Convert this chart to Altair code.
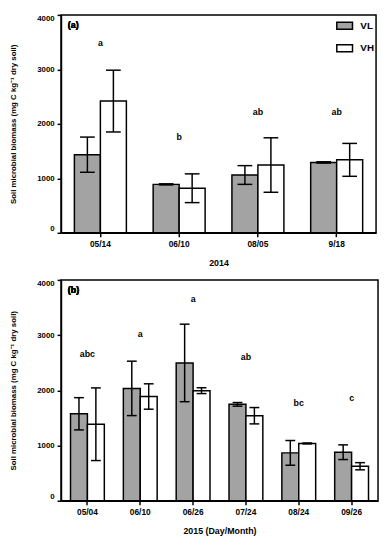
import altair as alt
import pandas as pd

# ---- Panel (a): 2014 ----
dates_a = ["05/14", "06/10", "08/05", "9/18"]
vl_a = [1434, 889, 1061, 1292]
vh_a = [2418, 818, 1244, 1339]
vl_a_sd = [323, 10, 172, 12]
vh_a_sd = [567, 264, 500, 302]
letters_a = ["a", "b", "ab", "ab"]
letters_a_pos = [3479, 1760, 2216, 2216]

# ---- Panel (b): 2015 ----
dates_b = ["05/04", "06/10", "06/26", "07/24", "08/24", "09/26"]
vl_b = [1575, 2035, 2496, 1746, 867, 879]
vh_b = [1386, 1888, 1994, 1540, 1038, 625]
vl_b_sd = [292, 493, 702, 33, 224, 133]
vh_b_sd = [658, 230, 53, 148, 8, 65]
letters_b = ["abc", "a", "a", "ab", "bc", "c"]
letters_b_pos = [2655, 3027, 3652, 2596, 1776, 1864]

series = ["VL", "VH"]
FONT = "Liberation Sans"
YTITLE = "Soil microbial biomass (mg C kg\u207b\u00b9 dry soil)"


def build(dates, vl, vh, vl_sd, vh_sd):
    rows = []
    for d, m1, m2, s1, s2 in zip(dates, vl, vh, vl_sd, vh_sd):
        rows.append({"date": d, "series": "VL", "mean": m1, "lo": m1 - s1, "hi": m1 + s1})
        rows.append({"date": d, "series": "VH", "mean": m2, "lo": m2 - s2, "hi": m2 + s2})
    return pd.DataFrame(rows)


def panel(dates, vl, vh, vl_sd, vh_sd, letters, lpos, tag, xtitle, w, h, pad, cap, legend):
    df = build(dates, vl, vh, vl_sd, vh_sd)
    ldf = pd.DataFrame({"date": dates, "txt": letters, "pos": lpos})
    x = alt.X("date:N", sort=dates,
              scale=alt.Scale(paddingInner=pad, paddingOuter=pad / 2),
              axis=alt.Axis(title=xtitle, labelAngle=0))
    xo = alt.XOffset("series:N", sort=series, scale=alt.Scale(paddingInner=0, paddingOuter=0))
    yscale = alt.Scale(domain=[0, 4000], nice=False)
    y = alt.Y("mean:Q", scale=yscale,
              axis=alt.Axis(values=[0, 1000, 2000, 3000, 4000], format="d", title=YTITLE,
                            grid=False, labelFlush=True))
    if legend:
        leg = alt.Legend(title=None, orient="top-right", offset=2, padding=0,
                         symbolType="M-1,-0.45H1V0.45H-1Z", symbolSize=256,
                         symbolStrokeColor="black", symbolStrokeWidth=1.5,
                         labelFont=FONT, labelFontWeight="bold", labelFontSize=10,
                         labelOffset=7, rowPadding=7)
    else:
        leg = None
    fill = alt.Fill("series:N", sort=series,
                    scale=alt.Scale(domain=series, range=["#a3a3a3", "#ffffff"]),
                    legend=leg)
    bars = alt.Chart(df).mark_bar(stroke="black", strokeWidth=1.5).encode(x=x, xOffset=xo, y=y, fill=fill)
    rules = alt.Chart(df).mark_rule(color="black", strokeWidth=1.5).encode(
        x=x, xOffset=xo, y=alt.Y("lo:Q", scale=yscale), y2="hi:Q")
    cap_hi = alt.Chart(df).mark_tick(color="black", size=cap, thickness=1.5, opacity=1, orient="horizontal").encode(
        x=x, xOffset=xo, y=alt.Y("hi:Q", scale=yscale))
    cap_lo = alt.Chart(df).mark_tick(color="black", size=cap, thickness=1.5, opacity=1, orient="horizontal").encode(
        x=x, xOffset=xo, y=alt.Y("lo:Q", scale=yscale))
    txt = alt.Chart(ldf).mark_text(font=FONT, fontWeight="bold", fontSize=9, baseline="middle").encode(
        x=x, y=alt.Y("pos:Q", scale=yscale), text="txt:N")
    tagm = alt.Chart(ldf).mark_text(text=tag, font=FONT, fontWeight="bold", fontSize=9,
                                    align="left", baseline="middle").encode(
        x=alt.value(7), y=alt.value(10))
    return alt.layer(bars, rules, cap_hi, cap_lo, txt, tagm).properties(width=w, height=h)


pa = panel(dates_a, vl_a, vh_a, vl_a_sd, vh_a_sd, letters_a, letters_a_pos, "(a)", "2014",
           321, 222, 0.34, 15, True)
pb = panel(dates_b, vl_b, vh_b, vl_b_sd, vh_b_sd, letters_b, letters_b_pos, "(b)", "2015  (Day/Month)",
           323, 225, 0.36, 10, False)

chart = alt.vconcat(pa, pb, spacing=9).resolve_scale(
    fill="independent", xOffset="independent", x="independent", y="independent"
).properties(
    padding=0
).configure_view(
    stroke="black", strokeWidth=1.5
).configure_axis(
    domainColor="black", domainWidth=1.5, tickColor="black", tickWidth=1.5, tickSize=4,
    labelFont=FONT, labelFontWeight="bold", labelFontSize=8, labelColor="black", labelPadding=3,
    titleFont=FONT, titleFontWeight="bold", titleFontSize=8, titleColor="black",
).configure_axisY(
    titlePadding=20, labelPadding=3
).configure_axisX(
    titlePadding=11, titleFontSize=9, labelFontSize=8.5
)

chart.save("out.html", embed_options={"renderer": "svg", "actions": False})
